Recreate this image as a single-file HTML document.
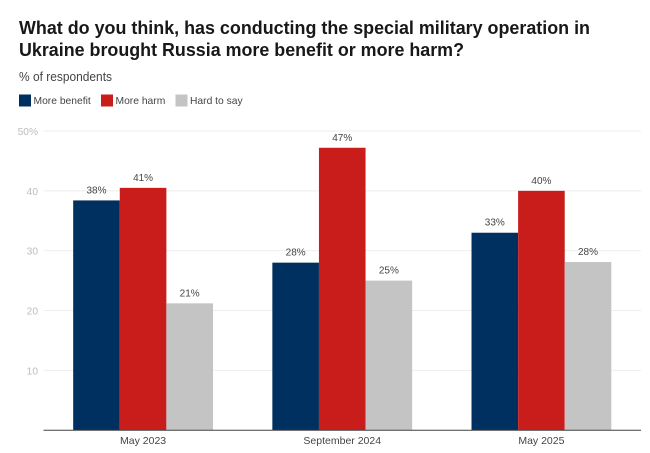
<!DOCTYPE html>
<html>
<head>
<meta charset="utf-8">
<style>
html,body{margin:0;padding:0;background:#fff;}
body{width:650px;height:453px;overflow:hidden;}
svg{display:block;font-family:"Liberation Sans",sans-serif;}
</style>
</head>
<body>
<svg id="chart" width="650" height="453" viewBox="0 0 650 453" xmlns="http://www.w3.org/2000/svg">
  <text x="19" y="34" font-size="18" font-weight="bold" fill="#181818" textLength="571" lengthAdjust="spacingAndGlyphs">What do you think, has conducting the special military operation in</text>
  <text x="19" y="56" font-size="18" font-weight="bold" fill="#181818" textLength="445" lengthAdjust="spacingAndGlyphs">Ukraine brought Russia more benefit or more harm?</text>
  <text x="19" y="81" font-size="13" fill="#444" textLength="93" lengthAdjust="spacingAndGlyphs">% of respondents</text>
  <g id="legend"></g>
  <g id="grid"></g>
  <g id="bars"></g>
  <g id="labels"></g>
  <g id="xaxis"></g>
</svg>
<script>
const categories = ['May 2023', 'September 2024', 'May 2025'];
const seriesNames = ['More benefit', 'More harm', 'Hard to say'];
const moreBenefit = [38.4, 28, 33];
const moreHarm = [40.5, 47.2, 40];
const hardToSay = [21.2, 25, 28.1];
const moreBenefitLabels = ['38%', '28%', '33%'];
const moreHarmLabels = ['41%', '47%', '40%'];
const hardToSayLabels = ['21%', '25%', '28%'];
const yTicks = [10, 20, 30, 40, 50];
const yTickLabels = ['10', '20', '30', '40', '50%'];

const NS = 'http://www.w3.org/2000/svg';
const colors = ['#00305f', '#c91d1c', '#c4c4c4'];
const seriesValues = [moreBenefit, moreHarm, hardToSay];
const seriesLabels = [moreBenefitLabels, moreHarmLabels, hardToSayLabels];
const plotLeft = 43.5, plotRight = 641, plotBottom = 430.2, plotTop = 131;
const yMax = 50;
const barWidth = 46.6;

function yScale(v) { return plotBottom - (v / yMax) * (plotBottom - plotTop); }
function groupCenter(i) { return plotLeft + (plotRight - plotLeft) * (i + 0.5) / categories.length; }
function barX(i, s) { return groupCenter(i) - barWidth * seriesValues.length / 2 + s * barWidth; }
function make(tag, attrs, parent, text) {
  const el = document.createElementNS(NS, tag);
  for (const k in attrs) el.setAttribute(k, attrs[k]);
  if (text !== undefined) el.textContent = text;
  parent.appendChild(el);
  return el;
}

const grid = document.getElementById('grid');
yTicks.forEach(function (t, i) {
  const line = make('line', {x1: plotLeft, x2: plotRight, y1: yScale(t), y2: yScale(t), stroke: '#eeeeee', 'stroke-width': 1}, grid);
  
  
  const lab = make('text', {x: 38, y: yScale(t) + 4, 'text-anchor': 'end', 'font-size': 10.2, fill: '#bdbdbd'}, grid, yTickLabels[i]);
  
  
});

const barsG = document.getElementById('bars');
const labelsG = document.getElementById('labels');
seriesValues.forEach(function (vals, s) {
  vals.forEach(function (v, i) {
    const rect = make('rect', {x: barX(i, s), y: yScale(v), width: barWidth, height: plotBottom - yScale(v), fill: colors[s]}, barsG);
    
    
    const lab = make('text', {x: barX(i, s) + barWidth / 2, y: yScale(v) - 7, 'text-anchor': 'middle', 'font-size': 10, fill: '#444'}, labelsG, seriesLabels[s][i]);
    
    
  });
});

const xaxis = document.getElementById('xaxis');
const axisLine = make('line', {x1: plotLeft, x2: plotRight, y1: plotBottom, y2: plotBottom, stroke: '#444', 'stroke-width': 1}, xaxis);


categories.forEach(function (c, i) {
  const lab = make('text', {x: groupCenter(i), y: 444, 'text-anchor': 'middle', 'font-size': 10.5, fill: '#444'}, xaxis, c);
  
  
});

const legendG = document.getElementById('legend');
const legendSwatchX = [19, 101, 175.5];
seriesNames.forEach(function (n, s) {
  const sw = make('rect', {x: legendSwatchX[s], y: 94.5, width: 12, height: 12, fill: colors[s]}, legendG);
  
  
  const lab = make('text', {x: legendSwatchX[s] + 14.5, y: 104, 'font-size': 10.3, fill: '#444'}, legendG, n);
  
  
});
</script>
</body>
</html>
